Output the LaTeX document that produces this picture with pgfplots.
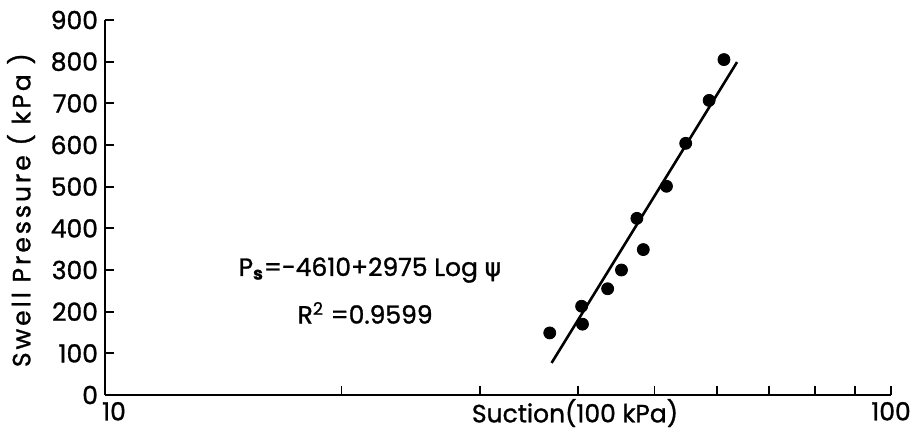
\documentclass[border=0pt]{standalone}
\usepackage{fontspec}
\setmainfont{Poppins}[FakeBold=1.2]
\newfontfamily\greekfont{DejaVu Sans}[FakeBold=1.2]
\usepackage{pgfplots}
\pgfplotsset{compat=1.18}

% swell pressure vs suction
\pgfplotstableread{
x y
36.8 149
40.4 213
40.5 170
43.6 255
45.4 300
48.4 349
47.5 424
51.8 501
54.8 604
58.7 707
61.3 805
}\swell

\pgfplotstableread{
x y
37.0 77
63.7 799
}\fit

\newcommand\lbl{\fontsize{12.5}{14}\selectfont}

\begin{document}
\begin{tikzpicture}
\begin{axis}[
  scale only axis, width=393pt, height=187.5pt,
  xmode=log, xmin=10, xmax=100, ymin=0, ymax=900,
  axis lines*=left, axis line style={-, line width=1pt},
  xtick={10,20,30,40,50,60,70,80,90,100},
  xticklabels={\hspace{9pt}10,,,,,,,,,100},
  minor xtick={},
  ytick={0,100,...,900},
  tick align=inside, major tick length=4.5pt,
  tick style={black, line width=0.9pt},
  /pgf/number format/assume math mode=true,
  tick label style={font=\lbl},
  xticklabel style={yshift=0pt},
  yticklabel style={xshift=0pt},
  clip=false,
]
\addplot[only marks, mark=*, mark size=3pt, black] table[x=x, y=y] {\swell};
\addplot[black, line width=1.3pt] table[x=x, y=y] {\fit};
\node[font=\lbl] at (rel axis cs:0.337,0.333)
  {P\textsubscript{\textbf{s}}=-4610+2975 Log {\greekfont ψ}};
\node[font=\lbl] at (rel axis cs:0.331,0.219)
  {R\textsuperscript{2} =0.9599};
\node[font=\lbl, anchor=center] at (rel axis cs:0.598,0)
  [yshift=-9pt] {Suction(100 kPa)};
\coordinate (o) at (rel axis cs:0,0);
\coordinate (ml) at (rel axis cs:0,0.493);
\end{axis}
\path (ml) ++(-42pt,0)
  node[font=\lbl\addfontfeature{LetterSpace=12}, rotate=90, anchor=center] {Swell Pressure ( kPa )};
\pgfresetboundingbox
\path (o) ++(-52.5pt,-19pt) rectangle ++(455pt,216.5pt);
\end{tikzpicture}
\end{document}
